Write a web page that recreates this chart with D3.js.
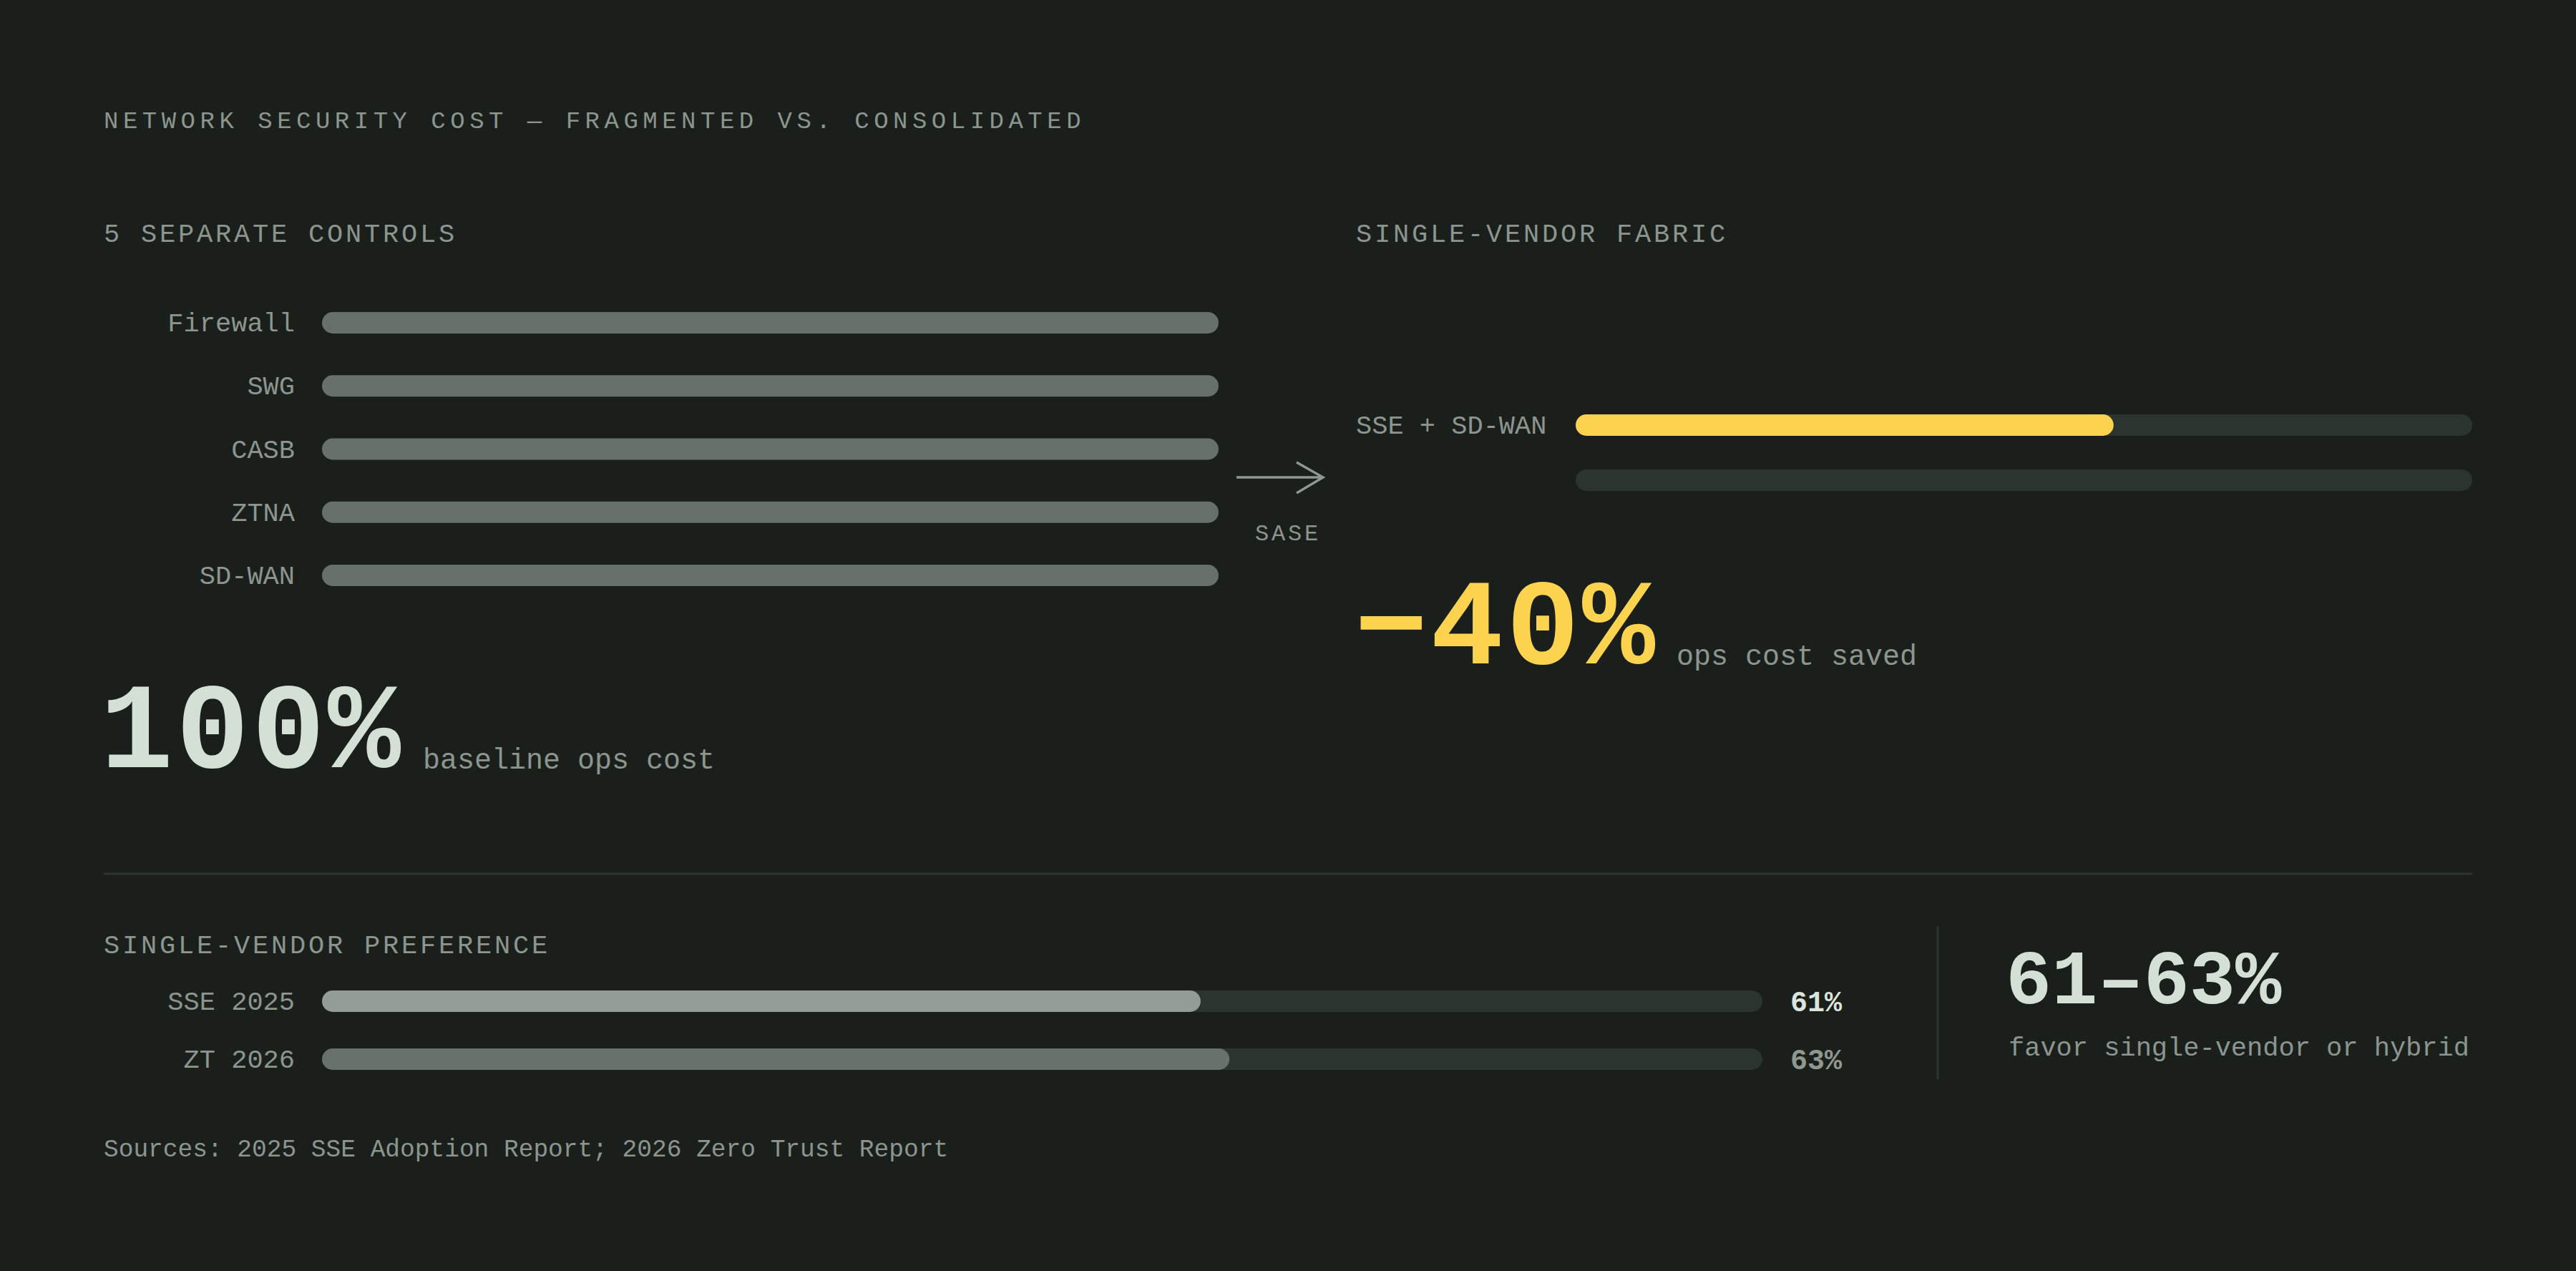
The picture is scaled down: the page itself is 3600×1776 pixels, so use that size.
<!DOCTYPE html>
<html>
<head>
  <meta charset="utf-8">
  <script src="https://cdn.jsdelivr.net/npm/d3@7"></script>
  <style>
    body { margin: 0; background: #1b1f1c; }
    text { font-family: "Liberation Mono", monospace; }
  </style>
</head>
<body>
  <svg id="chart" width="3600" height="1776"></svg>
  <script>
    // fragmented stack, every control at full baseline cost
    const controls = ["Firewall", "SWG", "CASB", "ZTNA", "SD-WAN"]
    const controlCost = [100, 100, 100, 100, 100]

    // consolidated fabric
    const fabricRows = ["SSE + SD-WAN", ""]
    const fabricCost = [60, 0]

    // single-vendor preference
    const prefLabels = ["SSE 2025", "ZT 2026"]
    const prefValues = [61, 63]

    const bg = "#1b1f1c", muted = "#8c958e", track = "#2c342f"

    let svg = d3.select("#chart")
    svg.append("rect").attr("width", 3600).attr("height", 1776).attr("fill", bg)

    // header texts
    svg.append("text").attr("x", 145).attr("y", 179)
       .attr("font-size", 34).attr("letter-spacing", 6.5).attr("fill", muted)
       .text("NETWORK SECURITY COST — FRAGMENTED VS. CONSOLIDATED")

    function section(x, y, t) {
      svg.append("text").attr("x", x).attr("y", y)
         .attr("font-size", 37).attr("letter-spacing", 3.8).attr("fill", muted)
         .text(t)
    }
    section(145, 338, "5 SEPARATE CONTROLS")
    section(1895, 338, "SINGLE-VENDOR FABRIC")
    section(145, 1332, "SINGLE-VENDOR PREFERENCE")

    // left panel
    let xL = d3.scaleLinear().domain([0, 100]).range([450, 1703])
    let yL = d3.scalePoint().domain(controls).range([451, 804])

    let left = svg.append("g")
    left.selectAll("rect")
        .data(controls)
        .enter().append("rect")
        .attr("x", xL(0))
        .attr("y", d => yL(d) - 15)
        .attr("width", (d, i) => xL(controlCost[i]) - xL(0))
        .attr("height", 30).attr("rx", 15)
        .attr("fill", "#67706a")
    left.selectAll("text")
        .data(controls)
        .enter().append("text")
        .attr("x", 412).attr("y", d => yL(d) + 12)
        .attr("text-anchor", "end").attr("font-size", 37).attr("fill", muted)
        .text(d => d)

    // arrow
    svg.append("path")
       .attr("d", "M1728,667 H1848 M1812,646 L1849,667 L1812,689")
       .attr("fill", "none").attr("stroke", "#8f9891").attr("stroke-width", 3.4)
    svg.append("text").attr("x", 1800).attr("y", 755)
       .attr("text-anchor", "middle").attr("font-size", 32).attr("letter-spacing", 3.8)
       .attr("fill", muted).text("SASE")

    // right panel
    let xR = d3.scaleLinear().domain([0, 100]).range([2202, 3455])
    let yR = d3.scalePoint().domain([0, 1]).range([594, 671])

    let right = svg.append("g")
    right.selectAll("rect.track")
         .data(fabricRows)
         .enter().append("rect").attr("class", "track")
         .attr("x", xR(0)).attr("y", (d, i) => yR(i) - 15)
         .attr("width", xR(100) - xR(0)).attr("height", 30).attr("rx", 15)
         .attr("fill", track)
    right.selectAll("rect.fill")
         .data(fabricCost.filter(v => v > 0))
         .enter().append("rect").attr("class", "fill")
         .attr("x", xR(0)).attr("y", (d, i) => yR(i) - 15)
         .attr("width", d => xR(d) - xR(0)).attr("height", 30).attr("rx", 15)
         .attr("fill", "#fcd34f")
    right.selectAll("text")
         .data(fabricRows)
         .enter().append("text")
         .attr("x", 1895).attr("y", (d, i) => yR(i) + 12)
         .attr("font-size", 37).attr("fill", muted)
         .text(d => d)

    // big numbers
    function big(x, y, num, color, note, nx) {
      svg.append("text").attr("x", x).attr("y", y)
         .attr("font-family", "'DejaVu Sans Mono', monospace").attr("font-weight", 700)
         .attr("font-size", 170).attr("letter-spacing", 4).attr("fill", color)
         .text(num)
      svg.append("text").attr("x", nx).attr("y", y + 2)
         .attr("font-size", 40).attr("fill", muted)
         .text(note)
    }
    big(1893, 927, "−" + (100 - fabricCost[0]) + "%", "#fcd34f", "ops cost saved", 2343)
    big(140, 1072, controlCost[0] + "%", "#d4dfd5", "baseline ops cost", 591)

    // divider
    svg.append("line").attr("x1", 145).attr("x2", 3455).attr("y1", 1221).attr("y2", 1221)
       .attr("stroke", "#2e3530").attr("stroke-width", 3)

    // preference bars
    let xP = d3.scaleLinear().domain([0, 100]).range([450, 2463])
    let yP = d3.scalePoint().domain(prefLabels).range([1399, 1480])
    let prefFill = ["#949d95", "#68716a"]
    let prefText = ["#dbe5db", "#8f988f"]

    let pref = svg.append("g")
    pref.selectAll("rect.track")
        .data(prefLabels)
        .enter().append("rect").attr("class", "track")
        .attr("x", xP(0)).attr("y", d => yP(d) - 15)
        .attr("width", xP(100) - xP(0)).attr("height", 30).attr("rx", 15)
        .attr("fill", track)
    pref.selectAll("rect.fill")
        .data(prefValues)
        .enter().append("rect").attr("class", "fill")
        .attr("x", xP(0)).attr("y", (d, i) => yP(prefLabels[i]) - 15)
        .attr("width", d => xP(d) - xP(0)).attr("height", 30).attr("rx", 15)
        .attr("fill", (d, i) => prefFill[i])
    pref.selectAll("text.lab")
        .data(prefLabels)
        .enter().append("text").attr("class", "lab")
        .attr("x", 412).attr("y", d => yP(d) + 12)
        .attr("text-anchor", "end").attr("font-size", 37).attr("fill", muted)
        .text(d => d)
    pref.selectAll("text.val")
        .data(prefValues)
        .enter().append("text").attr("class", "val")
        .attr("x", 2502).attr("y", (d, i) => yP(prefLabels[i]) + 14)
        .attr("font-family", "Roboto, sans-serif").attr("font-weight", 700)
        .attr("font-size", 40).attr("fill", (d, i) => prefText[i])
        .text(d => d + "%")

    // range callout
    svg.append("line").attr("x1", 2708).attr("x2", 2708).attr("y1", 1294).attr("y2", 1508)
       .attr("stroke", "#2e3530").attr("stroke-width", 3)
    svg.append("text").attr("x", 2803).attr("y", 1402)
       .attr("font-family", "Roboto, sans-serif").attr("font-weight", 700)
       .attr("font-size", 107).attr("fill", "#d4dfd5")
       .text(d3.min(prefValues) + "–" + d3.max(prefValues) + "%")
    svg.append("text").attr("x", 2807).attr("y", 1475)
       .attr("font-size", 37).attr("fill", muted)
       .text("favor single-vendor or hybrid")

    // footnote
    svg.append("text").attr("x", 145).attr("y", 1616)
       .attr("font-size", 34.5).attr("fill", muted)
       .text("Sources: 2025 SSE Adoption Report; 2026 Zero Trust Report")
  </script>
</body>
</html>
